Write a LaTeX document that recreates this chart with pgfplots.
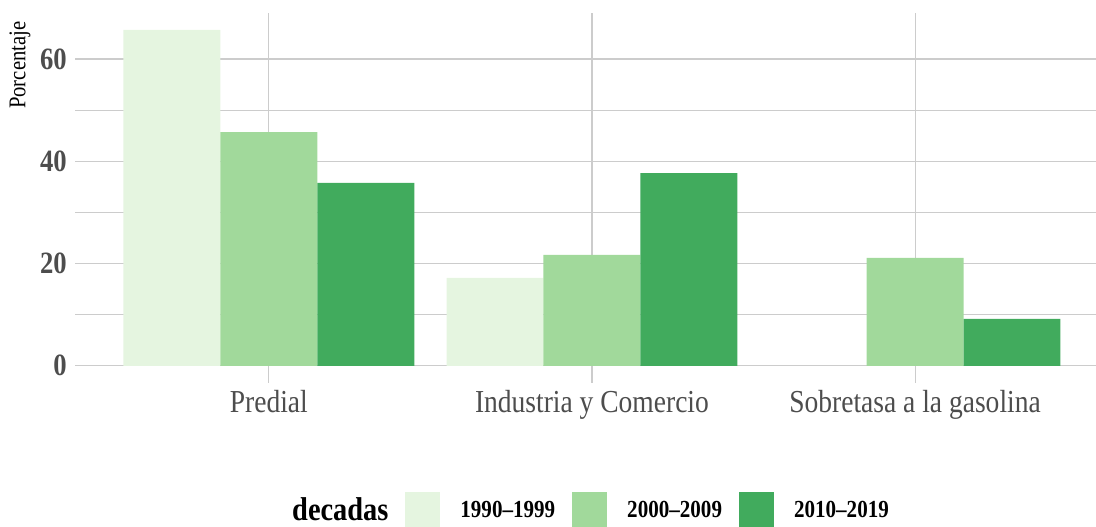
\documentclass[border=0pt]{standalone}
\usepackage{pgfplots}
\pgfplotsset{compat=1.18}
\usepackage{fontspec}
\setmainfont{Liberation Serif}[FakeStretch=0.86]

\definecolor{g1}{HTML}{E5F5E0}
\definecolor{g2}{HTML}{A1D99B}
\definecolor{g3}{HTML}{41AB5D}
\definecolor{txtgrey}{HTML}{4D4D4D}
\definecolor{gridgrey}{HTML}{CCCCCC}
\newcommand{\fs}[1]{\fontsize{#1bp}{#1bp}\selectfont}

\begin{document}
\begin{tikzpicture}
\useasboundingbox (0,0) rectangle (1096bp,527bp);
\begin{axis}[
    at={(75bp,144.3bp)}, anchor=south west,
    scale only axis, width=1021bp, height=369.7bp,
    xmin=0.4, xmax=3.56,
    ymin=-3.3, ymax=69,
    xtick={1,2,3},
    xticklabels={Predial, Industria y Comercio, Sobretasa a la gasolina},
    ytick={0,20,40,60},
    minor ytick={10,30,50},
    xmajorgrids=true, ymajorgrids=true, yminorgrids=true,
    major grid style={gridgrey, line width=1.1bp},
    minor grid style={gridgrey, line width=0.8bp},
    axis line style={draw=none},
    tick style={draw=none},
    major tick length=0pt, minor tick length=0pt,
    /pgf/number format/assume math mode=true,
    yticklabel style={font=\fs{31}\bfseries, text=txtgrey, inner xsep=0pt, xshift=-8bp},
    xticklabel style={font=\fs{32}, text=txtgrey, inner ysep=0pt, yshift=-7bp},
    ylabel={Porcentaje},
    ylabel style={at={(axis description cs:-0.054,0.986)}, anchor=east, font=\fs{24}},
    legend columns=-1,
    legend style={at={(0.193,-0.3443)}, anchor=west, draw=none, fill=none,
        inner sep=0pt, font=\fs{24.5}\bfseries, nodes={inner sep=0pt},
        /tikz/every odd column/.style={column sep=20bp},
        /tikz/every even column/.style={column sep=17bp}},
]
\addlegendimage{empty legend}
\addlegendentry{\fs{33}\bfseries decadas}

% 1990-1999
\addplot[ybar, bar width=0.3, bar shift=-0.3, fill=g1, draw=none,
    legend image code/.code={\fill[g1] (0bp,-17.5bp) rectangle (35bp,17.5bp);}]
    coordinates {(1,65.7) (2,17.2)};
\addlegendentry{1990--1999}

% 2000-2009
\addplot[ybar, bar width=0.3, bar shift=0, fill=g2, draw=none,
    legend image code/.code={\fill[g2] (0bp,-17.5bp) rectangle (35bp,17.5bp);}]
    coordinates {(1,45.7) (2,21.7) (3,21.1)};
\addlegendentry{2000--2009}

% 2010-2019
\addplot[ybar, bar width=0.3, bar shift=0.3, fill=g3, draw=none,
    legend image code/.code={\fill[g3] (0bp,-17.5bp) rectangle (35bp,17.5bp);}]
    coordinates {(1,35.8) (2,37.7) (3,9.2)};
\addlegendentry{2010--2019}

\end{axis}
\end{tikzpicture}
\end{document}
